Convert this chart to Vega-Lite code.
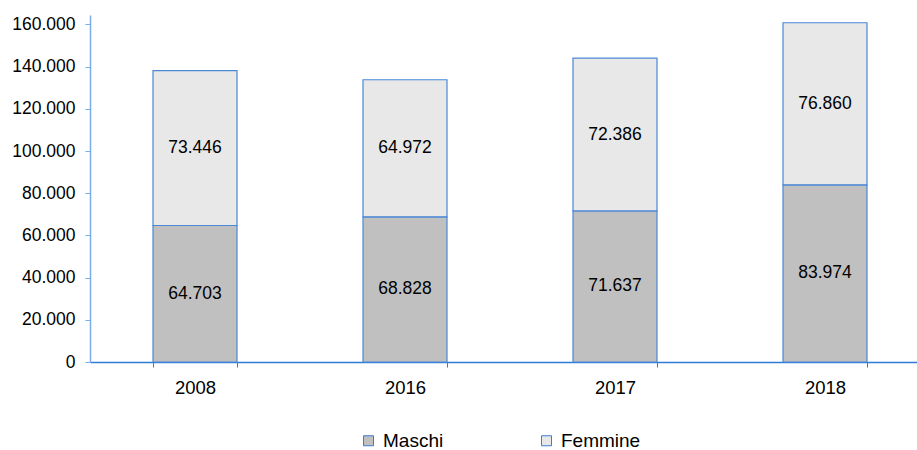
{
  "$schema": "https://vega.github.io/schema/vega-lite/v6.json",
  "width": 827,
  "height": 347,
  "autosize": {"type": "none"},
  "padding": {"left": 90, "top": 15, "right": 0, "bottom": 88},
  "background": "white",
  "config": {
    "font": "Liberation Sans",
    "view": {"stroke": null},
    "locale": {"number": {"decimal": ",", "thousands": ".", "grouping": [3], "currency": ["€", ""]}}
  },
  "data": {
    "values": [
      {"anno": "2008", "sesso": "Maschi", "ord": 1, "valore": 64703},
      {"anno": "2008", "sesso": "Femmine", "ord": 2, "valore": 73446},
      {"anno": "2016", "sesso": "Maschi", "ord": 1, "valore": 68828},
      {"anno": "2016", "sesso": "Femmine", "ord": 2, "valore": 64972},
      {"anno": "2017", "sesso": "Maschi", "ord": 1, "valore": 71637},
      {"anno": "2017", "sesso": "Femmine", "ord": 2, "valore": 72386},
      {"anno": "2018", "sesso": "Maschi", "ord": 1, "valore": 83974},
      {"anno": "2018", "sesso": "Femmine", "ord": 2, "valore": 76860}
    ]
  },
  "transform": [
    {"stack": "valore", "groupby": ["anno"], "sort": [{"field": "ord", "order": "ascending"}], "as": ["v0", "v1"]}
  ],
  "encoding": {
    "x": {
      "field": "anno",
      "type": "nominal",
      "sort": null,
      "scale": {"range": [0, 840], "paddingInner": 0.6, "paddingOuter": 0.3},
      "axis": {
        "title": null,
        "labelAngle": 0,
        "labelFontSize": 18.5,
        "labelColor": "#000000",
        "labelPadding": 11,
        "tickBand": "extent",
        "tickSize": 5,
        "tickColor": "#2f7bd6",
        "domainColor": "#2f7bd6",
        "domainWidth": 1.5
      }
    }
  },
  "layer": [
    {
      "mark": {"type": "bar", "stroke": "#4a88d8", "strokeWidth": 1.2},
      "encoding": {
        "y": {
          "field": "v0",
          "type": "quantitative",
          "scale": {"domain": [0, 164500], "nice": false},
          "axis": {
            "title": null,
            "grid": false,
            "values": [0, 20000, 40000, 60000, 80000, 100000, 120000, 140000, 160000],
            "format": ",d",
            "labelFontSize": 17.5,
            "labelColor": "#000000",
            "labelPadding": 10,
            "tickSize": 5,
            "tickColor": "#7aaee6",
            "domainColor": "#7aaee6",
            "domainWidth": 1.5
          }
        },
        "y2": {"field": "v1"},
        "color": {
          "field": "sesso",
          "type": "nominal",
          "scale": {"domain": ["Maschi", "Femmine"], "range": ["#c0c0c0", "#e8e8e8"]},
          "legend": {
            "title": null,
            "orient": "none",
            "legendX": 269,
            "legendY": 416,
            "direction": "horizontal",
            "columns": 2,
            "columnPadding": 93,
            "symbolType": "square",
            "symbolSize": 100,
            "symbolStrokeColor": "#3a7bd5",
            "symbolStrokeWidth": 1,
            "labelFontSize": 19,
            "labelColor": "#000000",
            "labelOffset": 5
          }
        }
      }
    },
    {
      "transform": [{"fold": ["v0", "v1"], "as": ["estremo", "pos"]}],
      "mark": {"type": "text", "fontSize": 17.5, "color": "#000000"},
      "encoding": {
        "y": {"field": "pos", "aggregate": "mean", "type": "quantitative"},
        "detail": {"field": "sesso", "type": "nominal"},
        "text": {"field": "valore", "aggregate": "max", "type": "quantitative", "format": ",d"}
      }
    }
  ]
}
